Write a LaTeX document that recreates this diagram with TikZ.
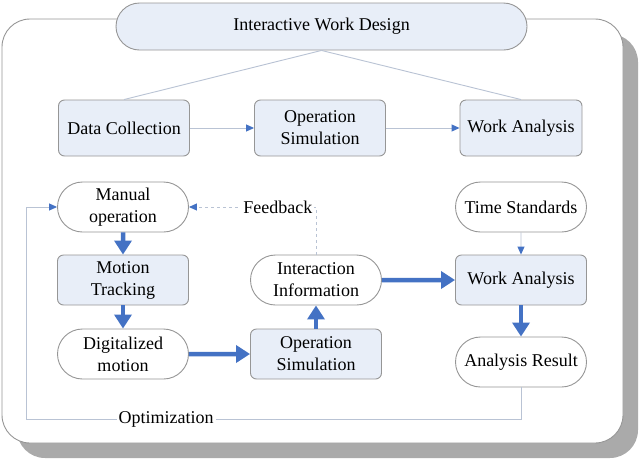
\documentclass[tikz,border=0pt]{standalone}
\usepackage{fontspec}
\setmainfont{Liberation Serif}
\usetikzlibrary{shapes.misc, arrows.meta}
\definecolor{boxfill}{RGB}{232,238,248}
\definecolor{boxline}{RGB}{150,150,150}
\definecolor{thinline}{RGB}{185,195,212}
\definecolor{arrowblue}{RGB}{68,114,196}
\definecolor{shadowgray}{RGB}{170,170,170}

\begin{document}
\begin{tikzpicture}[
        x=1pt, y=-1pt,
        font=\fontsize{18}{22}\selectfont,
        block/.style={
            rectangle, rounded corners=6pt,
            minimum width=131pt, minimum height=50pt,
            fill=boxfill, draw=boxline, line width=0.9pt,
            inner sep=0pt, align=center
        },
        pill/.style={
            rounded rectangle,
            minimum width=131pt, minimum height=50pt,
            fill=white, draw=boxline, line width=0.9pt,
            inner sep=0pt, align=center
        },
        thin/.style={draw=thinline, line width=0.9pt, -{Triangle[length=8pt, width=7pt, color=arrowblue]}},
        thick/.style={draw=arrowblue, line width=4.5pt, -{Triangle[length=14pt, width=17pt]}}
    ]
        \useasboundingbox (0,0) rectangle (640,459);
        
        % Frame with shadow
        \fill[shadowgray, rounded corners=28pt] (17,34) rectangle (638,458);
        \draw[fill=white, draw=boxline, line width=0.9pt, rounded corners=28pt] (2,19) rectangle (623,443);
        
        % Top level
        \node[pill, fill=boxfill, minimum width=411pt, minimum height=47pt] (IWD) at (321.5,26.5) {Interactive Work Design};
        \node[block, minimum height=56pt] (DC) at (124,128) {Data Collection};
        \node[block, minimum height=56pt] (OS1) at (320,128) {Operation\\Simulation};
        \node[block, minimum width=122pt, minimum height=56pt] (WA1) at (521,128) {Work Analysis};
        
        % Process - left column
        \node[pill] (MO) at (123,207) {Manual\\operation};
        \node[block] (MT) at (123,280) {Motion\\Tracking};
        \node[pill] (DM) at (123,354) {Digitalized\\motion};
        
        % Process - middle column
        \node[block] (OS2) at (316,354) {Operation\\Simulation};
        \node[pill] (II) at (316,280) {Interaction\\Information};
        
        % Process - right column
        \node[pill] (TS) at (521,207) {Time Standards};
        \node[block] (WA2) at (521,280) {Work Analysis};
        \node[pill] (AR) at (521,362) {Analysis Result};
        
        % Top level connections
        \draw[thinline, line width=0.9pt] (IWD.south) -- (DC.north);
        \draw[thinline, line width=0.9pt] (IWD.south) -- (WA1.north);
        \draw[thin] (DC) -- (OS1);
        \draw[thin] (OS1) -- (WA1);
        
        % Main flow
        \draw[thick] (MO) -- (MT);
        \draw[thick] (MT) -- (DM);
        \draw[thick] (DM) -- (OS2);
        \draw[thick] (OS2) -- (II);
        \draw[thick] (II) -- (WA2);
        \draw[thick] (WA2) -- (AR);
        \draw[thin] (TS) -- (WA2);
        
        % Feedback loop
        \coordinate (fb) at (316,207);
        \draw[thin, dashed] (II.north) -- (fb) -- node[pos=0.3, fill=white, inner sep=2pt] {Feedback} (MO.east);
        
        % Optimization loop
        \coordinate (opt1) at (521,419);
        \coordinate (opt2) at (26,419);
        \coordinate (opt3) at (26,207);
        \draw[thin] (AR.south) -- (opt1) -- node[pos=0.717, fill=white, inner sep=2pt] {Optimization} (opt2) -- (opt3) -- (MO.west);
    \end{tikzpicture}
\end{document}
